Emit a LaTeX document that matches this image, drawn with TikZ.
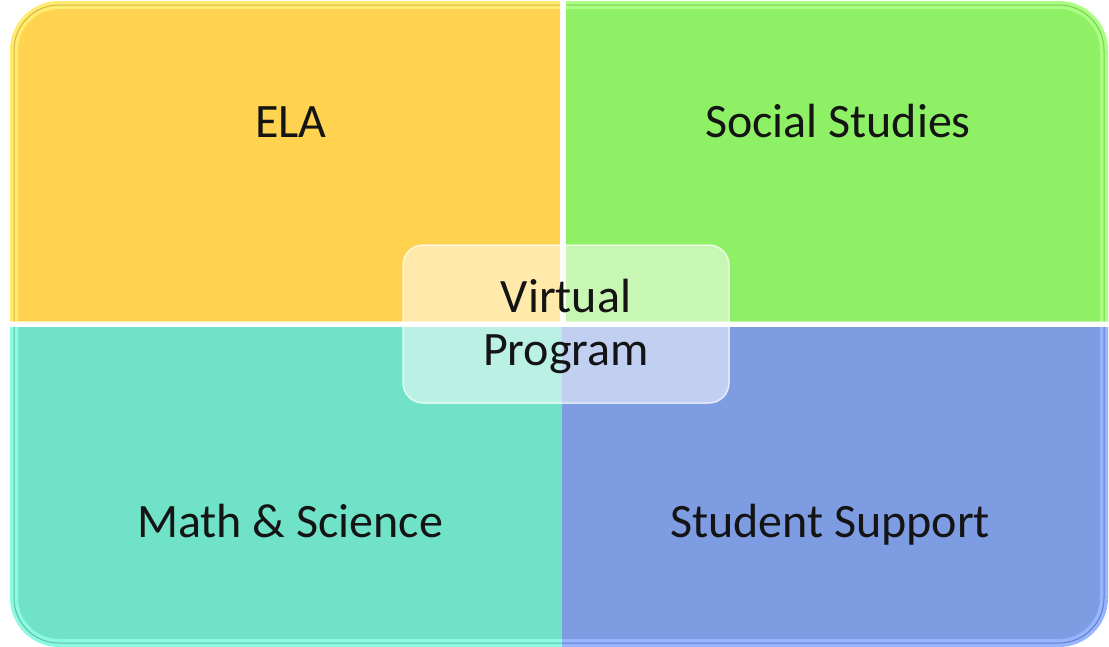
\documentclass[tikz,border=0pt]{standalone}
\usepackage{fontspec}
\setmainfont{Carlito}
\definecolor{cYellow}{RGB}{255,210,80}
\definecolor{cYellowHi}{RGB}{255,236,110}
\definecolor{cYellowLo}{RGB}{214,178,70}
\definecolor{cGreen}{RGB}{142,240,100}
\definecolor{cGreenHi}{RGB}{170,255,130}
\definecolor{cGreenLo}{RGB}{120,205,85}
\definecolor{cTeal}{RGB}{112,226,200}
\definecolor{cTealHi}{RGB}{140,250,225}
\definecolor{cTealLo}{RGB}{95,190,170}
\definecolor{cBlue}{RGB}{126,156,226}
\definecolor{cBlueHi}{RGB}{150,180,255}
\definecolor{cBlueLo}{RGB}{100,125,190}
\definecolor{txt}{RGB}{20,20,20}
\tikzset{
  quadlabel/.style={anchor=base, text=txt, inner sep=0pt,
    font=\fontsize{48}{53}\selectfont},
  centerbox/.style={rounded corners=20pt, fill=white, fill opacity=0.52,
    draw=white, draw opacity=0.7, line width=1.5pt},
}
\newcommand{\outershape}{(14,5) rectangle (1104,643)}
\newcommand{\quadrant}[4]{%
  \begin{scope}
    \clip #1;
    \fill[#2, rounded corners=45pt] \outershape;
    \draw[#3, line width=8pt, rounded corners=45pt] \outershape;
    \draw[#4, line width=1pt, rounded corners=45pt] \outershape;
  \end{scope}}
\begin{document}
\begin{tikzpicture}[x=1pt,y=-1pt]
\useasboundingbox (0,0) rectangle (1109,646);
\fill[white] (0,0) rectangle (1109,646);
\quadrant{(0,0) rectangle (560,321)}{cYellow}{cYellowHi}{cYellowLo}
\quadrant{(566,0) rectangle (1109,321)}{cGreen}{cGreenHi}{cGreenLo}
\quadrant{(0,327) rectangle (562,646)}{cTeal}{cTealHi}{cTealLo}
\quadrant{(562,327) rectangle (1109,646)}{cBlue}{cBlueHi}{cBlueLo}
\fill[white, opacity=0.45] (560,0) rectangle (566,321);
\fill[white, opacity=0.45] (0,321) rectangle (1109,327);
\node[quadlabel] (ela) at (291,137) {ELA};
\node[quadlabel] (social) at (838,137) {Social Studies};
\node[quadlabel] (math) at (290,537) {Math \& Science};
\node[quadlabel] (support) at (830,537) {Student Support};
\path[centerbox] (403,245) rectangle (729,403);
\node[quadlabel, align=center] (vp) at (566,365) {Virtual\\Program};
\end{tikzpicture}
\end{document}
